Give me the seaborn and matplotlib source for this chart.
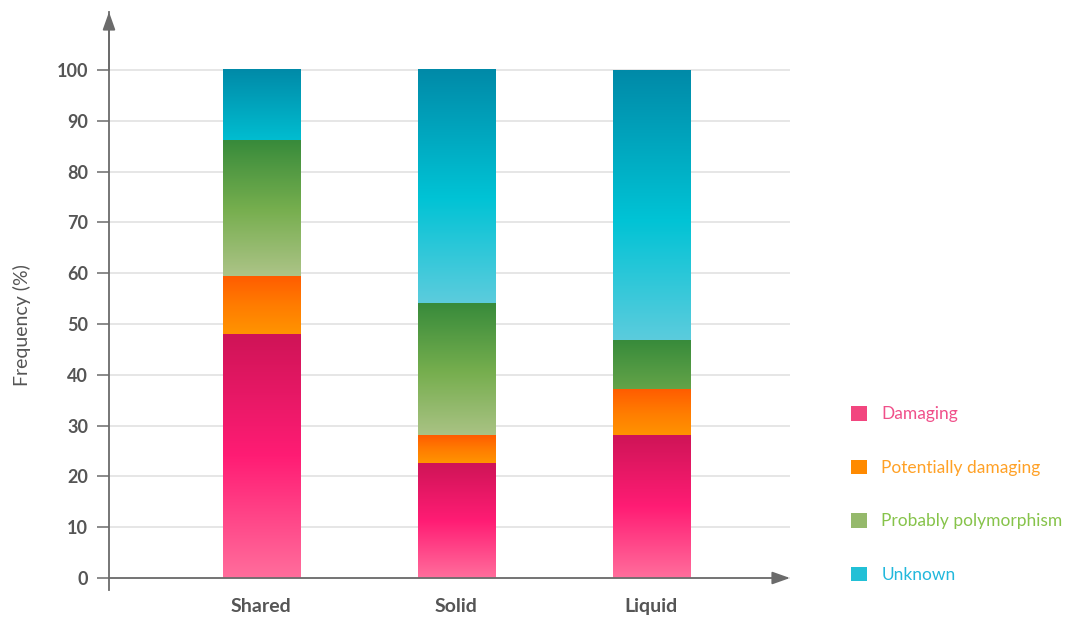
import numpy as np
import pandas as pd
import matplotlib
matplotlib.use("Agg")
import matplotlib.pyplot as plt
import seaborn as sns
from matplotlib.colors import LinearSegmentedColormap
from matplotlib.patches import Patch

# ---------------- data ----------------
samples = ["Shared", "Solid", "Liquid"]
categories = ["Damaging", "Potentially damaging", "Probably polymorphism", "Unknown"]
damaging = [48.0, 22.6, 28.0]
potentially_damaging = [11.4, 5.4, 9.2]
probably_polymorphism = [26.6, 26.1, 9.5]
unknown = [14.0, 45.9, 53.3]
y_ticks = [0, 10, 20, 30, 40, 50, 60, 70, 80, 90, 100]

# ---------------- styles ----------------
grad_stops = {
    "Damaging": [(0.0, "#FF6E9C"), (0.5, "#FF1C74"), (1.0, "#CF1457")],
    "Potentially damaging": [(0.0, "#FF9400"), (0.5, "#FF7C00"), (1.0, "#FF5C00")],
    "Probably polymorphism": [(0.0, "#AEC489"), (0.5, "#76AE4E"), (1.0, "#388B3B")],
    "Unknown": [(0.0, "#5CCCDD"), (0.45, "#00C3D5"), (1.0, "#008AA8")],
}
grad_span = {"Damaging": None, "Potentially damaging": None,
             "Probably polymorphism": 27.0, "Unknown": 28.0}
handle_colors = ["#F2467F", "#FF8A00", "#95B96B", "#22C0D6"]
text_colors = ["#F0508A", "#FFA126", "#86C34A", "#22B8DC"]
axis_color = "#6B6B6B"
label_color = "#555555"

sns.set_theme(style="white")
plt.rcParams["font.family"] = ["Lato", "DejaVu Sans"]

values = {
    "Damaging": damaging,
    "Potentially damaging": potentially_damaging,
    "Probably polymorphism": probably_polymorphism,
    "Unknown": unknown,
}
rows = []
cum = np.zeros(len(samples))
for cat in categories:
    v = np.array(values[cat], dtype=float)
    for s, c0, vv in zip(samples, cum, v):
        rows.append({"sample": s, "category": cat, "bottom": c0, "value": vv, "cum": c0 + vv})
    cum = cum + v
df = pd.DataFrame(rows)

fig = plt.figure(figsize=(10.7, 6.17), dpi=100)
ax = fig.add_axes([109 / 1070, 1 - 590 / 617, 681 / 1070, (590 - 12) / 617])

hue_order = categories[::-1]
sns.barplot(data=df, x="sample", y="cum", hue="category", hue_order=hue_order,
            order=samples, palette=dict(zip(categories, handle_colors)),
            dodge=False, width=0.395, saturation=1, legend=False,
            linewidth=0, ax=ax, zorder=2)

# gradient fills over each visible segment
for cat, container in zip(hue_order, ax.containers):
    cmap = LinearSegmentedColormap.from_list(cat, grad_stops[cat])
    sub = df[df["category"] == cat].set_index("sample")
    for s, patch in zip(samples, container.patches):
        x0, w = patch.get_x(), patch.get_width()
        y0, y1 = sub.loc[s, "bottom"], sub.loc[s, "cum"]
        span = grad_span[cat]
        if span is None or span <= (y1 - y0):
            t0 = 0.0
        else:
            t0 = 1 - (y1 - y0) / span
        t = np.linspace(t0, 1, 256).reshape(-1, 1)
        img = cmap(t)
        ax.imshow(img, extent=[x0, x0 + w, y0, y1], origin="lower",
                  aspect="auto", interpolation="bilinear", zorder=3)

ax.set_xlim(-0.78, 2.71)
ax.set_ylim(-2.36, 111.4)

# axes / grid
for side in ["top", "right", "bottom"]:
    ax.spines[side].set_visible(False)
ax.spines["left"].set_color(axis_color)
ax.spines["left"].set_linewidth(1.3)
ax.set_yticks(y_ticks)
ax.yaxis.grid(True, color="#E6E6E6", linewidth=1.4)
ax.xaxis.grid(False)
ax.set_axisbelow(True)

arrow = dict(arrowstyle="-|>,head_length=0.9,head_width=0.32", color=axis_color,
             lw=1.3, shrinkA=0, shrinkB=0)
ax.annotate("", xy=(0, 1), xycoords="axes fraction", xytext=(0, 0.9),
            textcoords="axes fraction", arrowprops=arrow, zorder=5)
ax.annotate("", xy=(1, 0), xycoords=("axes fraction", "data"), xytext=(0, 0),
            textcoords=("axes fraction", "data"), arrowprops=arrow, zorder=5)

ax.tick_params(axis="y", length=9, width=1.1, color=axis_color, pad=6,
               labelsize=13, labelcolor=label_color, left=True)
ax.tick_params(axis="x", length=0, pad=6, labelsize=14, labelcolor=label_color)
for lab in ax.get_yticklabels() + ax.get_xticklabels():
    lab.set_fontweight("bold")

ax.set_xlabel("")
ax.set_ylabel("Frequency (%)", fontsize=14, color=label_color, va="center")
ax.yaxis.set_label_coords(-0.128, 0.458)

handles = [Patch(facecolor=c, edgecolor="none") for c in handle_colors]
leg = fig.legend(handles, categories, loc="center left",
                 bbox_to_anchor=(851 / 1070, 1 - 494.5 / 617), frameon=False,
                 handlelength=0.9, handleheight=0.9, handletextpad=0.85,
                 labelspacing=2.15, borderpad=0, borderaxespad=0, fontsize=12.5)
for txt, c in zip(leg.get_texts(), text_colors):
    txt.set_color(c)

fig.savefig("out.png", dpi=100)
